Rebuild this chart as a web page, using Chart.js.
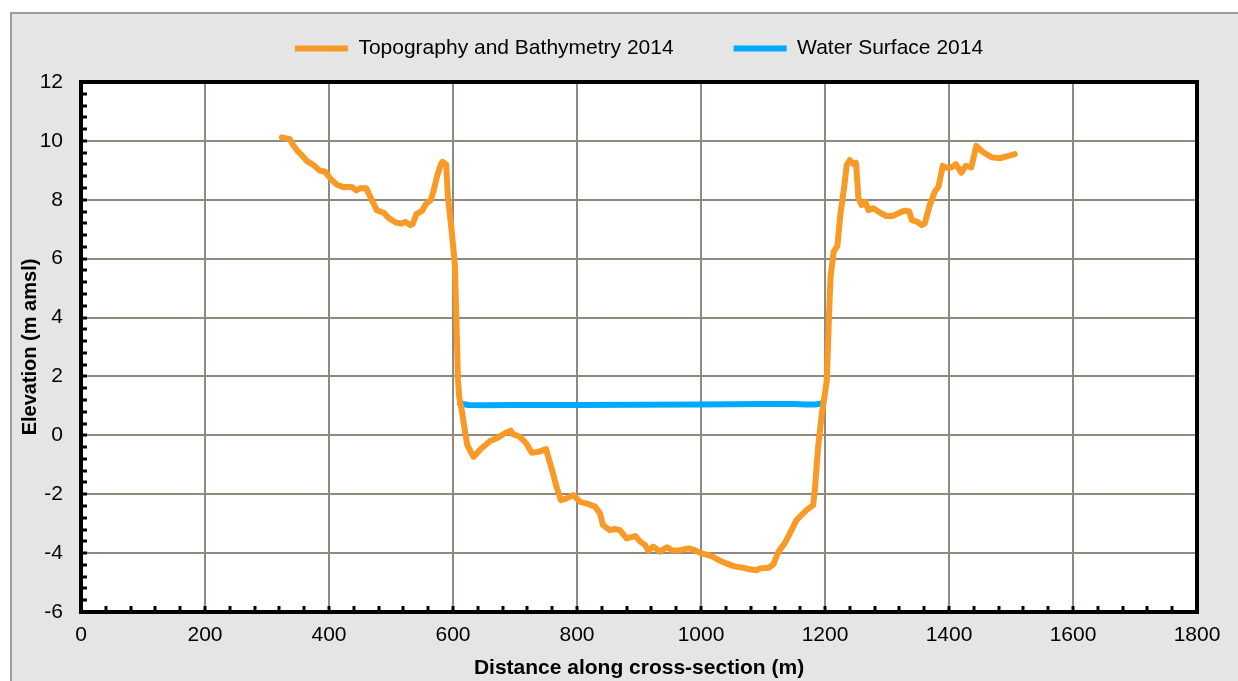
<!DOCTYPE html>
<html><head><meta charset="utf-8">
<script src="https://cdn.jsdelivr.net/npm/chart.js@4"></script>
<style>
html,body{margin:0;padding:0;background:#fff;overflow:hidden;width:1238px;height:681px;}
#frame{position:absolute;left:10px;top:12px;width:1300px;height:720px;background:#e5e5e5;border:2px solid #9c9c9c;box-sizing:border-box;}
#wrap{position:absolute;left:0;top:0;width:1238px;height:681px;}
</style></head><body>
<div id="frame"></div>
<div id="wrap"><canvas id="c" width="1238" height="681"></canvas></div>
<script>
// ---- data ----
const topoDist = [324,337,342,348,356,364,375,385,394,402,412,423,437,444,450,460,469,477,488,497,508,517,523,531,535,541,550,556,564,569,574,580,583,589,592,598,603,606,608,610,614,619,623,633,646,660,673,684,693,697,708,718,727,738,750,759,767,774,783,794,805,818,829,837,842,853,861,869,880,894,902,910,915,923,934,945,955,966,980,990,1001,1017,1031,1041,1055,1068,1079,1090,1095,1109,1117,1125,1135,1146,1154,1162,1170,1181,1184,1189,1195,1198,1203,1206,1208,1209,1214,1220,1225,1231,1235,1240,1246,1250,1254,1259,1265,1270,1278,1289,1299,1309,1321,1329,1336,1340,1348,1356,1361,1369,1377,1383,1390,1396,1404,1411,1420,1427,1436,1444,1454,1469,1482,1496,1506];
const topoElev = [10.12,10.06,9.86,9.69,9.52,9.32,9.18,8.99,8.95,8.73,8.52,8.43,8.43,8.32,8.39,8.39,7.99,7.65,7.56,7.37,7.23,7.19,7.25,7.14,7.18,7.51,7.62,7.85,7.99,8.33,8.78,9.18,9.29,9.20,8.05,6.92,5.8,3.5,1.9,1.3,0.86,0.18,-0.33,-0.73,-0.44,-0.19,-0.07,0.07,0.16,0.04,-0.05,-0.27,-0.59,-0.56,-0.47,-1.12,-1.75,-2.20,-2.14,-2.03,-2.26,-2.33,-2.42,-2.65,-3.05,-3.22,-3.18,-3.22,-3.50,-3.42,-3.61,-3.73,-3.92,-3.78,-3.95,-3.80,-3.92,-3.90,-3.84,-3.90,-4.01,-4.10,-4.26,-4.35,-4.46,-4.50,-4.55,-4.58,-4.52,-4.50,-4.37,-3.95,-3.67,-3.22,-2.88,-2.71,-2.54,-2.37,-1.75,-0.39,0.75,1.14,1.88,3.8,4.9,5.39,6.24,6.43,7.54,8.44,9.18,9.35,9.21,9.26,8.05,7.82,7.93,7.65,7.71,7.56,7.45,7.45,7.57,7.63,7.60,7.31,7.26,7.14,7.20,7.82,8.27,8.44,9.15,9.09,9.10,9.21,8.92,9.15,9.10,9.83,9.63,9.44,9.41,9.49,9.55];
const waterDist = [611,625,650,700,800,900,1000,1100,1150,1170,1185,1197];
const waterElev = [1.08,1.03,1.02,1.03,1.03,1.04,1.05,1.06,1.06,1.05,1.05,1.09];
const seriesNames = ['Topography and Bathymetry 2014','Water Surface 2014'];
const xRange = [0,1800], xStep = 200;
const yRange = [-6,12], yStep = 2;

const FONT = "'Liberation Sans', Arial, sans-serif";

const framePlugin = {
  id: 'framePlugin',
  afterInit(chart){
    const lg = chart.legend;
    if (lg) { const f = lg.fit.bind(lg); lg.fit = function(){ f(); this.height = 104; }; }
  },
  beforeDraw(chart){
    const {ctx, chartArea:a} = chart;
    ctx.save(); ctx.fillStyle = '#ffffff';
    ctx.fillRect(a.left, a.top, a.right - a.left, a.bottom - a.top);
    ctx.restore();
  },
  afterDatasetsDraw(chart){
    const {ctx, chartArea:a, scales:{x, y}} = chart;
    ctx.save();
    ctx.strokeStyle = '#000'; ctx.lineWidth = 3;
    ctx.beginPath();
    const xm = xStep/5, ym = yStep/5;
    for (let v = x.min + xm; v < x.max - 1e-6; v += xm) {
      const px = Math.round(x.getPixelForValue(v));
      ctx.moveTo(px, a.bottom); ctx.lineTo(px, a.bottom - 6);
    }
    for (let v = y.min + ym; v < y.max - 1e-6; v += ym) {
      const py = Math.round(y.getPixelForValue(v));
      ctx.moveTo(a.left, py); ctx.lineTo(a.left + 6, py);
    }
    ctx.stroke();
    ctx.lineWidth = 4;
    ctx.strokeRect(a.left, a.top, a.right - a.left, a.bottom - a.top);
    ctx.restore();
  }
};

new Chart(document.getElementById('c'), {
  type: 'line',
  data: {
    datasets: [
      { label: seriesNames[0], data: topoDist.map((d,i)=>({x:d, y:topoElev[i]})),
        borderColor:'#F99A26', backgroundColor:'#F99A26', borderWidth:6, pointRadius:0,
        tension:0, borderCapStyle:'round', borderJoinStyle:'round', fill:false },
      { label: seriesNames[1], data: waterDist.map((d,i)=>({x:d, y:waterElev[i]})),
        borderColor:'#00AAFA', backgroundColor:'#00AAFA', borderWidth:6, pointRadius:0,
        tension:0, borderCapStyle:'round', borderJoinStyle:'round', fill:false }
    ]
  },
  options: {
    responsive:false, animation:false, devicePixelRatio:1,
    layout:{padding:{left:0, right:41, top:-22, bottom:0}},
    plugins:{
      legend:{ position:'top', fullSize:false, align:'center',
        labels:{ usePointStyle:true, pointStyle:'line', pointStyleWidth:53, padding:60,
          color:'#000', font:{family:FONT, size:21} } },
      tooltip:{enabled:false}
    },
    scales:{
      x:{ type:'linear', min:xRange[0], max:xRange[1],
        afterFit(s){ s.height = 69; },
        ticks:{ stepSize:xStep, padding:11, color:'#000', font:{family:FONT, size:21},
          callback:(v)=>String(v) },
        grid:{ color:'#8f897f', lineWidth:2, drawTicks:false },
        border:{ display:false },
        title:{ display:true, text:'Distance along cross-section (m)', color:'#000',
          font:{family:FONT, size:21, weight:'bold'}, padding:{top:0,bottom:0} } },
      y:{ type:'linear', min:yRange[0], max:yRange[1],
        afterFit(s){ s.width = 81; },
        ticks:{ stepSize:yStep, padding:18, color:'#000', font:{family:FONT, size:21},
          callback:(v)=>String(v) },
        grid:{ color:'#8f897f', lineWidth:2, drawTicks:false },
        border:{ display:false },
        title:{ display:true, text:'Elevation (m amsl)', color:'#000',
          font:{family:FONT, size:20, weight:'bold'}, padding:{top:18,bottom:0} } }
    }
  },
  plugins:[framePlugin]
});
</script>
</body></html>
